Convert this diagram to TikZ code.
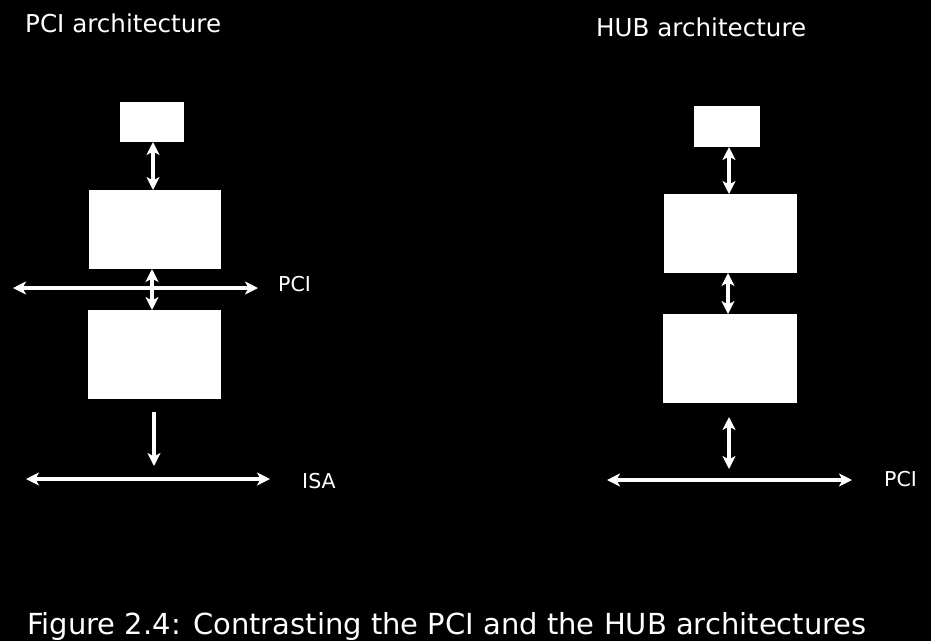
\documentclass[tikz,border=0pt]{standalone}
\usepackage{fontspec}
\setmainfont{DejaVu Sans}
\usetikzlibrary{arrows.meta}
\begin{document}
\begin{tikzpicture}[x=1pt,y=-1pt,
  blk/.style={fill=white,draw=none,inner sep=0pt,outer sep=0pt},
  tip/.tip={Stealth[length=13pt,width=13pt,inset=3.5pt]},
  arr/.style={white,line width=3.5pt,tip-tip},
  down/.style={white,line width=3.5pt,-tip},
  title/.style={text=white,inner sep=0pt,anchor=base west,font=\fontsize{24.6}{28}\selectfont},
  lbl/.style={text=white,inner sep=0pt,anchor=base west,font=\fontsize{20.5}{24}\selectfont},
  captiontext/.style={text=white,inner sep=0pt,anchor=base west,font=\fontsize{29}{34}\selectfont}]
\fill[black] (0,0) rectangle (931,641);
\useasboundingbox (0,0) rectangle (931,641);
% titles
\node[title] (t1) at (25,32) {PCI architecture};
\node[title] (t2) at (596,36) {HUB architecture};
% left column
\node[blk,minimum width=64pt,minimum height=40pt] (l1) at (152,122) {};
\node[blk,minimum width=132pt,minimum height=79pt] (l2) at (155,229.5) {};
\node[blk,minimum width=133pt,minimum height=89pt] (l3) at (154.5,354.5) {};
\coordinate (pciL) at (13,288);
\coordinate (pciR) at (258,288);
\coordinate (isaL) at (26,479);
\coordinate (isaR) at (270,479);
\coordinate (dnA) at (154,412);
\coordinate (dnB) at (154,466);
\draw[arr] (pciL) -- (pciR);
\draw[arr] ([xshift=1pt]l1.south) -- ([xshift=-2pt]l2.north);
\draw[arr] ([xshift=-3pt]l2.south) -- ([xshift=-2.5pt]l3.north);
\draw[down] (dnA) -- (dnB);
\draw[arr] (isaL) -- (isaR);
\node[lbl] (pcil) at (278,291) {PCI};
\node[lbl] (isal) at (302,488) {ISA};
% right column
\node[blk,minimum width=66pt,minimum height=41pt] (r1) at (727,126.5) {};
\node[blk,minimum width=133pt,minimum height=79pt] (r2) at (730.5,233.5) {};
\node[blk,minimum width=134pt,minimum height=89pt] (r3) at (730,358.5) {};
\coordinate (rbA) at (729,417);
\coordinate (rbB) at (729,469);
\coordinate (rpL) at (607,480);
\coordinate (rpR) at (852,480);
\draw[arr] ([xshift=2pt]r1.south) -- ([xshift=-1.5pt]r2.north);
\draw[arr] ([xshift=-2.5pt]r2.south) -- ([xshift=-2pt]r3.north);
\draw[arr] (rbA) -- (rbB);
\draw[arr] (rpL) -- (rpR);
\node[lbl] (pcir) at (884,486) {PCI};
% caption
\node[captiontext] (caption) at (27,634) {Figure 2.4: Contrasting the PCI and the HUB architectures};
\end{tikzpicture}
\end{document}
